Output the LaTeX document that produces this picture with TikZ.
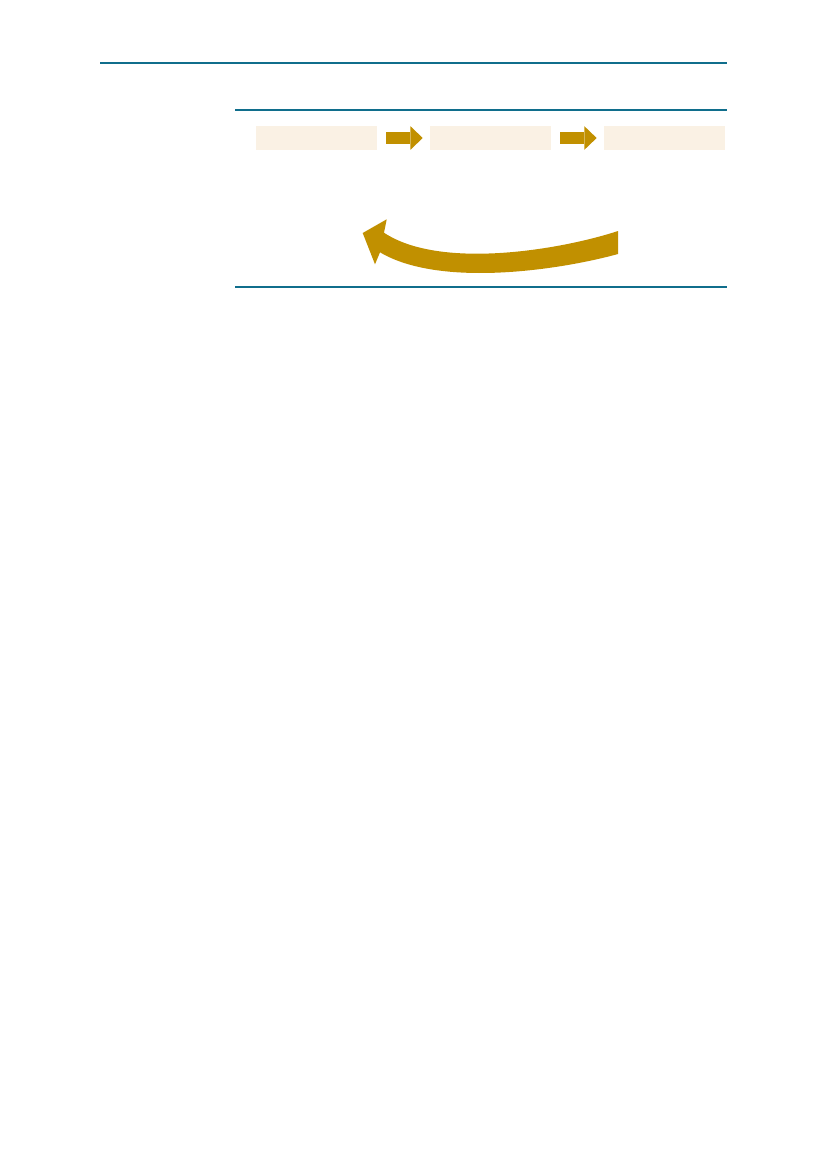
\documentclass[tikz,border=0pt]{standalone}
\usetikzlibrary{arrows.meta}
\definecolor{rulecol}{RGB}{16,110,140}
\definecolor{boxfill}{RGB}{250,241,228}
\definecolor{arrowcol}{RGB}{193,144,0}
\begin{document}
\begin{tikzpicture}[x=0.7198pt, y=-0.7198pt, block/.style={fill=boxfill, minimum width=87.1pt, minimum height=17.3pt, inner sep=0pt},
    flow/.style={arrowcol, line width=8.9pt, shorten <=6.5pt, shorten >=5pt, -{Triangle[length=8.9pt, width=17.1pt, line width=0pt]}},
    rule/.style={rulecol, line width=0.75pt},]
    \useasboundingbox (0,0) rectangle (827,1169);
    \draw[rule] (100,63) -- (727,63);
    \draw[rule] (235,110) -- (727,110);
    \draw[rule] (235,287) -- (727,287);
    \node[block] (first) at (316.5,138) {};
    \node[block, right of=first, node distance=125.2pt] (second) {};
    \node[block, right of=second, node distance=125.2pt] (third) {};
    \draw[flow] (first) -- (second);
    \draw[flow] (second) -- (third);
    % big return arrow
    \fill[arrowcol] (618,231) .. controls (560,250) and (440,270) .. (384,232.7)
        -- (386.7,219.3) -- (362.7,233) -- (375,264.3) -- (380,252.3)
        .. controls (440,288) and (560,270) .. (618,254) -- cycle;
  \end{tikzpicture}
\end{document}
